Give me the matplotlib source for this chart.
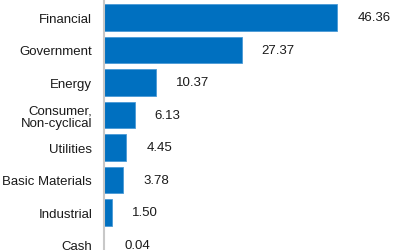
import matplotlib
matplotlib.use("Agg")
import matplotlib.pyplot as plt

categories = ["Financial", "Government", "Energy", "Consumer,\nNon-cyclical",
              "Utilities", "Basic Materials", "Industrial", "Cash"]
values = [46.36, 27.37, 10.37, 6.13, 4.45, 3.78, 1.50, 0.04]
value_labels = ["46.36", "27.37", "10.37", "6.13", "4.45", "3.78", "1.50", "0.04"]

plt.rcParams['font.family'] = ['Liberation Sans', 'DejaVu Sans']

fig = plt.figure(figsize=(4.01, 2.51), dpi=100)
ax = fig.add_axes([104/401, 0, 297/401, 1])

pos = list(range(len(categories)))
ax.barh(pos, values, height=0.83, color="#0070C0", edgecolor="#4a9ad6", linewidth=0.6)
ax.set_ylim(7.154, -0.569)
ax.set_xlim(0, 59)

ax.set_yticks(pos)
ax.set_yticklabels(categories, fontsize=9.5, color="#1a1a1a", linespacing=1.1)
ax.tick_params(axis='y', length=0, pad=8.5)
ax.set_xticks([])

for s in ["top", "right", "bottom"]:
    ax.spines[s].set_visible(False)
ax.spines["left"].set_color("#c8c8c8")
ax.spines["left"].set_linewidth(1.5)

for p, v, lab in zip(pos, values, value_labels):
    ax.annotate(lab, xy=(v, p), xytext=(14.4, 0), textcoords="offset points",
                ha="left", va="center", fontsize=9.5, color="#1a1a1a")

fig.savefig("out.png", dpi=100)
